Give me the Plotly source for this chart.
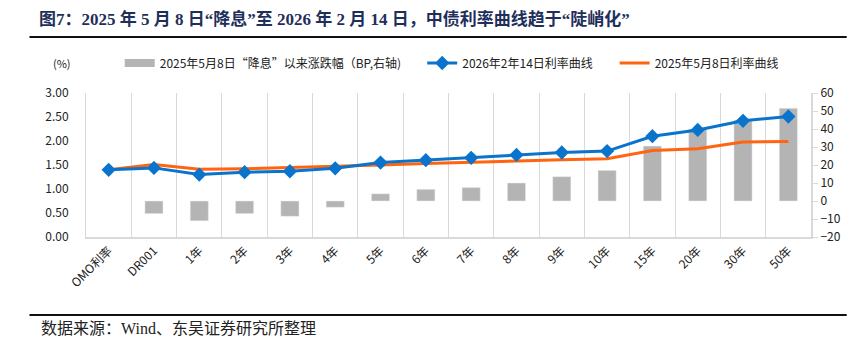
import plotly.graph_objects as go

categories = ["OMO利率", "DR001", "1年", "2年", "3年", "4年", "5年", "6年", "7年",
              "8年", "9年", "10年", "15年", "20年", "30年", "50年"]
rate_2026 = [1.40, 1.44, 1.30, 1.35, 1.37, 1.43, 1.55, 1.60, 1.65, 1.71, 1.76, 1.79,
             2.10, 2.23, 2.42, 2.51]
rate_2025 = [1.40, 1.51, 1.41, 1.42, 1.45, 1.47, 1.50, 1.53, 1.56, 1.58, 1.61, 1.63,
             1.80, 1.84, 1.98, 1.99]
change_bp = [None, -7, -11, -7, -8.5, -3.5, 4, 6.5, 7.5, 10, 13.5, 17, 30.5, 40, 45, 51.5]

name_bar = "2025年5月8日“降息”以来涨跌幅（BP,右轴)"
name_blue = "2026年2年14日利率曲线"
name_orange = "2025年5月8日利率曲线"

BLUE = "#0A74CC"
ORANGE = "#FF6410"
GRAY = "#B4B4B4"
GRID = "#D9D9D9"
FONT = "Noto Sans CJK SC"
SERIF = "Liberation Serif, Noto Sans CJK SC"

L, R, T, B = 86, 36, 93, 100
W, H = 853, 337
PW, PH = W - L - R, H - T - B


def px(x):
    return (x - L) / PW


def py(y):
    return (H - B - y) / PH


fig = go.Figure()

fig.add_trace(go.Bar(x=categories, y=change_bp, marker_color=GRAY, width=0.4,
                     yaxis="y", showlegend=False, name=name_bar))
# legend swatch for bars
fig.add_trace(go.Scatter(x=[None], y=[None], mode="lines", line=dict(color=GRAY, width=8),
                         name=name_bar, yaxis="y", legend="legend"))
fig.add_trace(go.Scatter(x=categories, y=rate_2025, mode="lines", name=name_orange,
                         line=dict(color=ORANGE, width=3), yaxis="y2", legend="legend3"))
fig.add_trace(go.Scatter(x=categories, y=rate_2026, mode="lines+markers", name=name_blue,
                         line=dict(color=BLUE, width=3),
                         marker=dict(symbol="diamond", size=11, color=BLUE),
                         yaxis="y2", legend="legend2"))

legend_common = dict(orientation="h", yanchor="middle", y=py(63), xanchor="left",
                     font=dict(family=FONT, size=12, color="#222"),
                     bgcolor="rgba(0,0,0,0)", borderwidth=0)

fig.update_layout(
    width=W, height=H,
    margin=dict(l=L, r=R, t=T, b=B),
    plot_bgcolor="white", paper_bgcolor="white",
    font=dict(family=FONT, size=12, color="#222"),
    legend=dict(x=px(120), **legend_common),
    legend2=dict(x=px(425), **legend_common),
    legend3=dict(x=px(619), **legend_common),
    xaxis=dict(type="category", tickson="boundaries", showgrid=True, gridcolor=GRID,
               gridwidth=1, showline=True, linecolor=GRID, linewidth=2, ticks="",
               tickangle=-45, tickfont=dict(family=FONT, size=12, color="#222"),
               range=[-0.5, len(categories) - 0.5]),
    yaxis=dict(side="right", range=[-20, 60], dtick=10, showgrid=False, zeroline=False,
               showline=True, linecolor=GRID, linewidth=2, ticks="outside", ticklen=5,
               tickcolor=GRID, tickfont=dict(family=FONT, size=12, color="#222")),
    yaxis2=dict(side="left", overlaying="y", range=[0, 3], dtick=0.5, tickformat=".2f",
                showgrid=False, zeroline=False, showline=True, linecolor=GRID, linewidth=1,
                ticks="", ticklabelstandoff=14,
                tickfont=dict(family=FONT, size=12, color="#222")),
)

fig.add_annotation(text="(%)", xref="paper", yref="paper", x=px(62), y=py(63),
                   xanchor="center", yanchor="middle",
                   showarrow=False, font=dict(family=FONT, size=11, color="#222"))

fig.add_annotation(
    text="<b>图7：2025 年 5 月 8 日“降息”至 2026 年 2 月 14 日，中债利率曲线趋于“陡峭化”</b>",
    xref="paper", yref="paper", x=px(37), y=py(19), xanchor="left", yanchor="middle",
    showarrow=False, font=dict(family=SERIF, size=17, color="#1F2F5C"))
fig.add_shape(type="line", xref="paper", yref="paper", x0=px(29), x1=px(853),
              y0=py(37), y1=py(37), line=dict(color="#111", width=2))
fig.add_shape(type="line", xref="paper", yref="paper", x0=px(29), x1=px(853),
              y0=py(315), y1=py(315), line=dict(color="#111", width=2))
fig.add_annotation(
    text="数据来源：Wind、东吴证券研究所整理",
    xref="paper", yref="paper", x=px(39), y=py(328), xanchor="left", yanchor="middle",
    showarrow=False, font=dict(family=SERIF, size=16, color="#222"))

fig.write_html("out.html")
